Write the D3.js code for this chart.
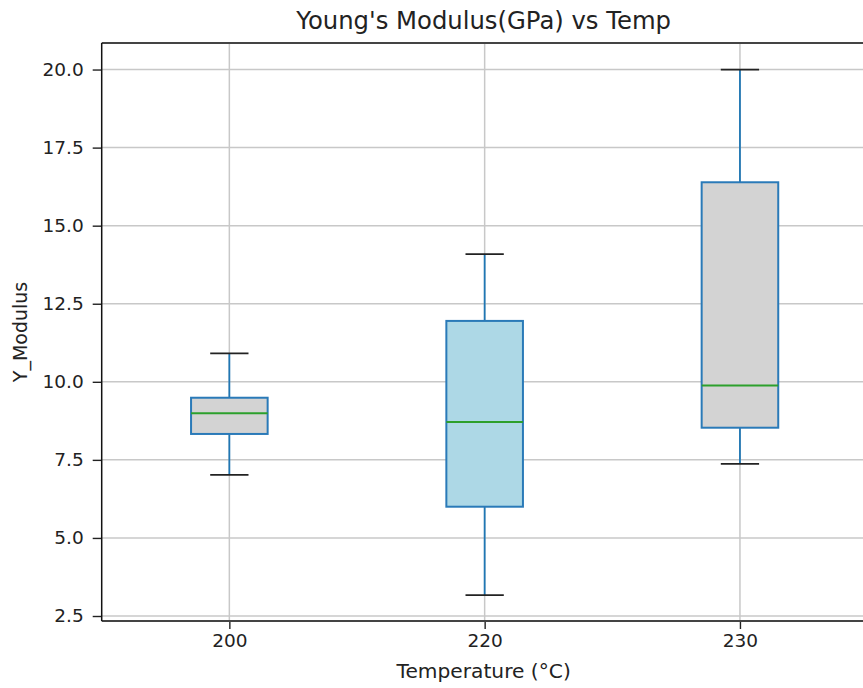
<!DOCTYPE html>
<html>
<head>
<meta charset="utf-8">
<script src="https://cdn.jsdelivr.net/npm/d3@7"></script>
<style>
  body { margin: 0; background: #fff; }
  svg { display: block; font-family: "DejaVu Sans", sans-serif; }
</style>
</head>
<body>
<svg id="chart" width="863" height="688"></svg>
<script>
// Box-plot summaries of Young's modulus by print temperature
const categories   = ["200", "220", "230"];
const whiskerLow   = [7.02, 3.17, 7.37];
const q1           = [8.33, 6.00, 8.53];
const median       = [8.99, 8.71, 9.88];
const q3           = [9.49, 11.95, 16.39];
const whiskerHigh  = [10.91, 14.09, 20.00];
const boxFills     = ["#d3d3d3", "#add8e6", "#d3d3d3"];
const yTicks       = [2.5, 5.0, 7.5, 10.0, 12.5, 15.0, 17.5, 20.0];

const svg = d3.select("#chart");
const margin = { left: 101.7, top: 43, right: 867.6, bottom: 621 };

const x = d3.scaleLinear().domain([0.5, 3.5]).range([margin.left, margin.right]);
const y = d3.scaleLinear().domain([2.34, 20.85]).range([margin.bottom, margin.top]);

const boxes = categories.map((c, i) => ({
  cat: c, pos: i + 1,
  lo: whiskerLow[i], q1: q1[i], med: median[i], q3: q3[i], hi: whiskerHigh[i],
  fill: boxFills[i]
}));

// grid
const grid = svg.append("g").attr("stroke", "#c8c8c8").attr("stroke-width", 1.5);
grid.selectAll("line.h").data(yTicks).join("line")
  .attr("x1", margin.left).attr("x2", margin.right)
  .attr("y1", d => y(d)).attr("y2", d => y(d));
grid.selectAll("line.v").data(boxes).join("line")
  .attr("x1", d => x(d.pos)).attr("x2", d => x(d.pos))
  .attr("y1", margin.top).attr("y2", margin.bottom);

// boxes
const boxW = 0.3, capW = 0.15;
const g = svg.append("g");
boxes.forEach(d => {
  const cx = x(d.pos);
  const bw = x(d.pos + boxW / 2) - cx;
  const cw = x(d.pos + capW / 2) - cx;
  // whiskers
  g.append("line").attr("x1", cx).attr("x2", cx).attr("y1", y(d.q3)).attr("y2", y(d.hi))
    .attr("stroke", "#1f77b4").attr("stroke-width", 1.8);
  g.append("line").attr("x1", cx).attr("x2", cx).attr("y1", y(d.q1)).attr("y2", y(d.lo))
    .attr("stroke", "#1f77b4").attr("stroke-width", 1.8);
  // caps
  [d.lo, d.hi].forEach(v => {
    g.append("line").attr("x1", cx - cw).attr("x2", cx + cw).attr("y1", y(v)).attr("y2", y(v))
      .attr("stroke", "#222").attr("stroke-width", 1.8);
  });
  // box
  g.append("rect").attr("x", cx - bw).attr("width", 2 * bw)
    .attr("y", y(d.q3)).attr("height", y(d.q1) - y(d.q3))
    .attr("fill", d.fill).attr("stroke", "#2a7ab8").attr("stroke-width", 2);
  // median
  g.append("line").attr("x1", cx - bw).attr("x2", cx + bw).attr("y1", y(d.med)).attr("y2", y(d.med))
    .attr("stroke", "#2ca02c").attr("stroke-width", 2);
});

// axes
const yAxis = d3.axisLeft(y).tickValues(yTicks).tickFormat(d3.format(".1f")).tickSize(9).tickPadding(9);
const xAxis = d3.axisBottom(x).tickValues(boxes.map(d => d.pos))
  .tickFormat((d, i) => categories[i]).tickSize(8).tickPadding(5);

const ya = svg.append("g").attr("transform", `translate(${margin.left},0)`).call(yAxis);
const xa = svg.append("g").attr("transform", `translate(0,${margin.bottom})`).call(xAxis);
[ya, xa].forEach(a => {
  a.select(".domain").remove();
  a.selectAll(".tick line").attr("stroke", "#222").attr("stroke-width", 1.4);
  a.selectAll(".tick text").attr("fill", "#222").style("font-size", "18.5px").style("font-family", "DejaVu Sans");
});

// spines
const sp = svg.append("g").attr("fill", "none");
sp.append("line").attr("x1", margin.left).attr("x2", margin.right).attr("y1", margin.top).attr("y2", margin.top)
  .attr("stroke", "#444").attr("stroke-width", 2);
sp.append("line").attr("x1", margin.left).attr("x2", margin.right).attr("y1", margin.bottom).attr("y2", margin.bottom)
  .attr("stroke", "#444").attr("stroke-width", 2);
sp.append("line").attr("x1", margin.left).attr("x2", margin.left).attr("y1", margin.top).attr("y2", margin.bottom)
  .attr("stroke", "#111").attr("stroke-width", 1.5);

// titles
svg.append("text").attr("x", (margin.left + margin.right) / 2 - 1).attr("y", 28.5)
  .attr("text-anchor", "middle").attr("fill", "#222").style("font-size", "24.3px")
  .text("Young's Modulus(GPa) vs Temp");
svg.append("text").attr("x", (margin.left + margin.right) / 2 - 1).attr("y", 678)
  .attr("text-anchor", "middle").attr("fill", "#222").style("font-size", "20.2px")
  .text("Temperature (°C)");
svg.append("text").attr("transform", `translate(27,${(margin.top + margin.bottom) / 2}) rotate(-90)`)
  .attr("text-anchor", "middle").attr("fill", "#222").style("font-size", "19px")
  .text("Y_Modulus");
</script>
</body>
</html>
